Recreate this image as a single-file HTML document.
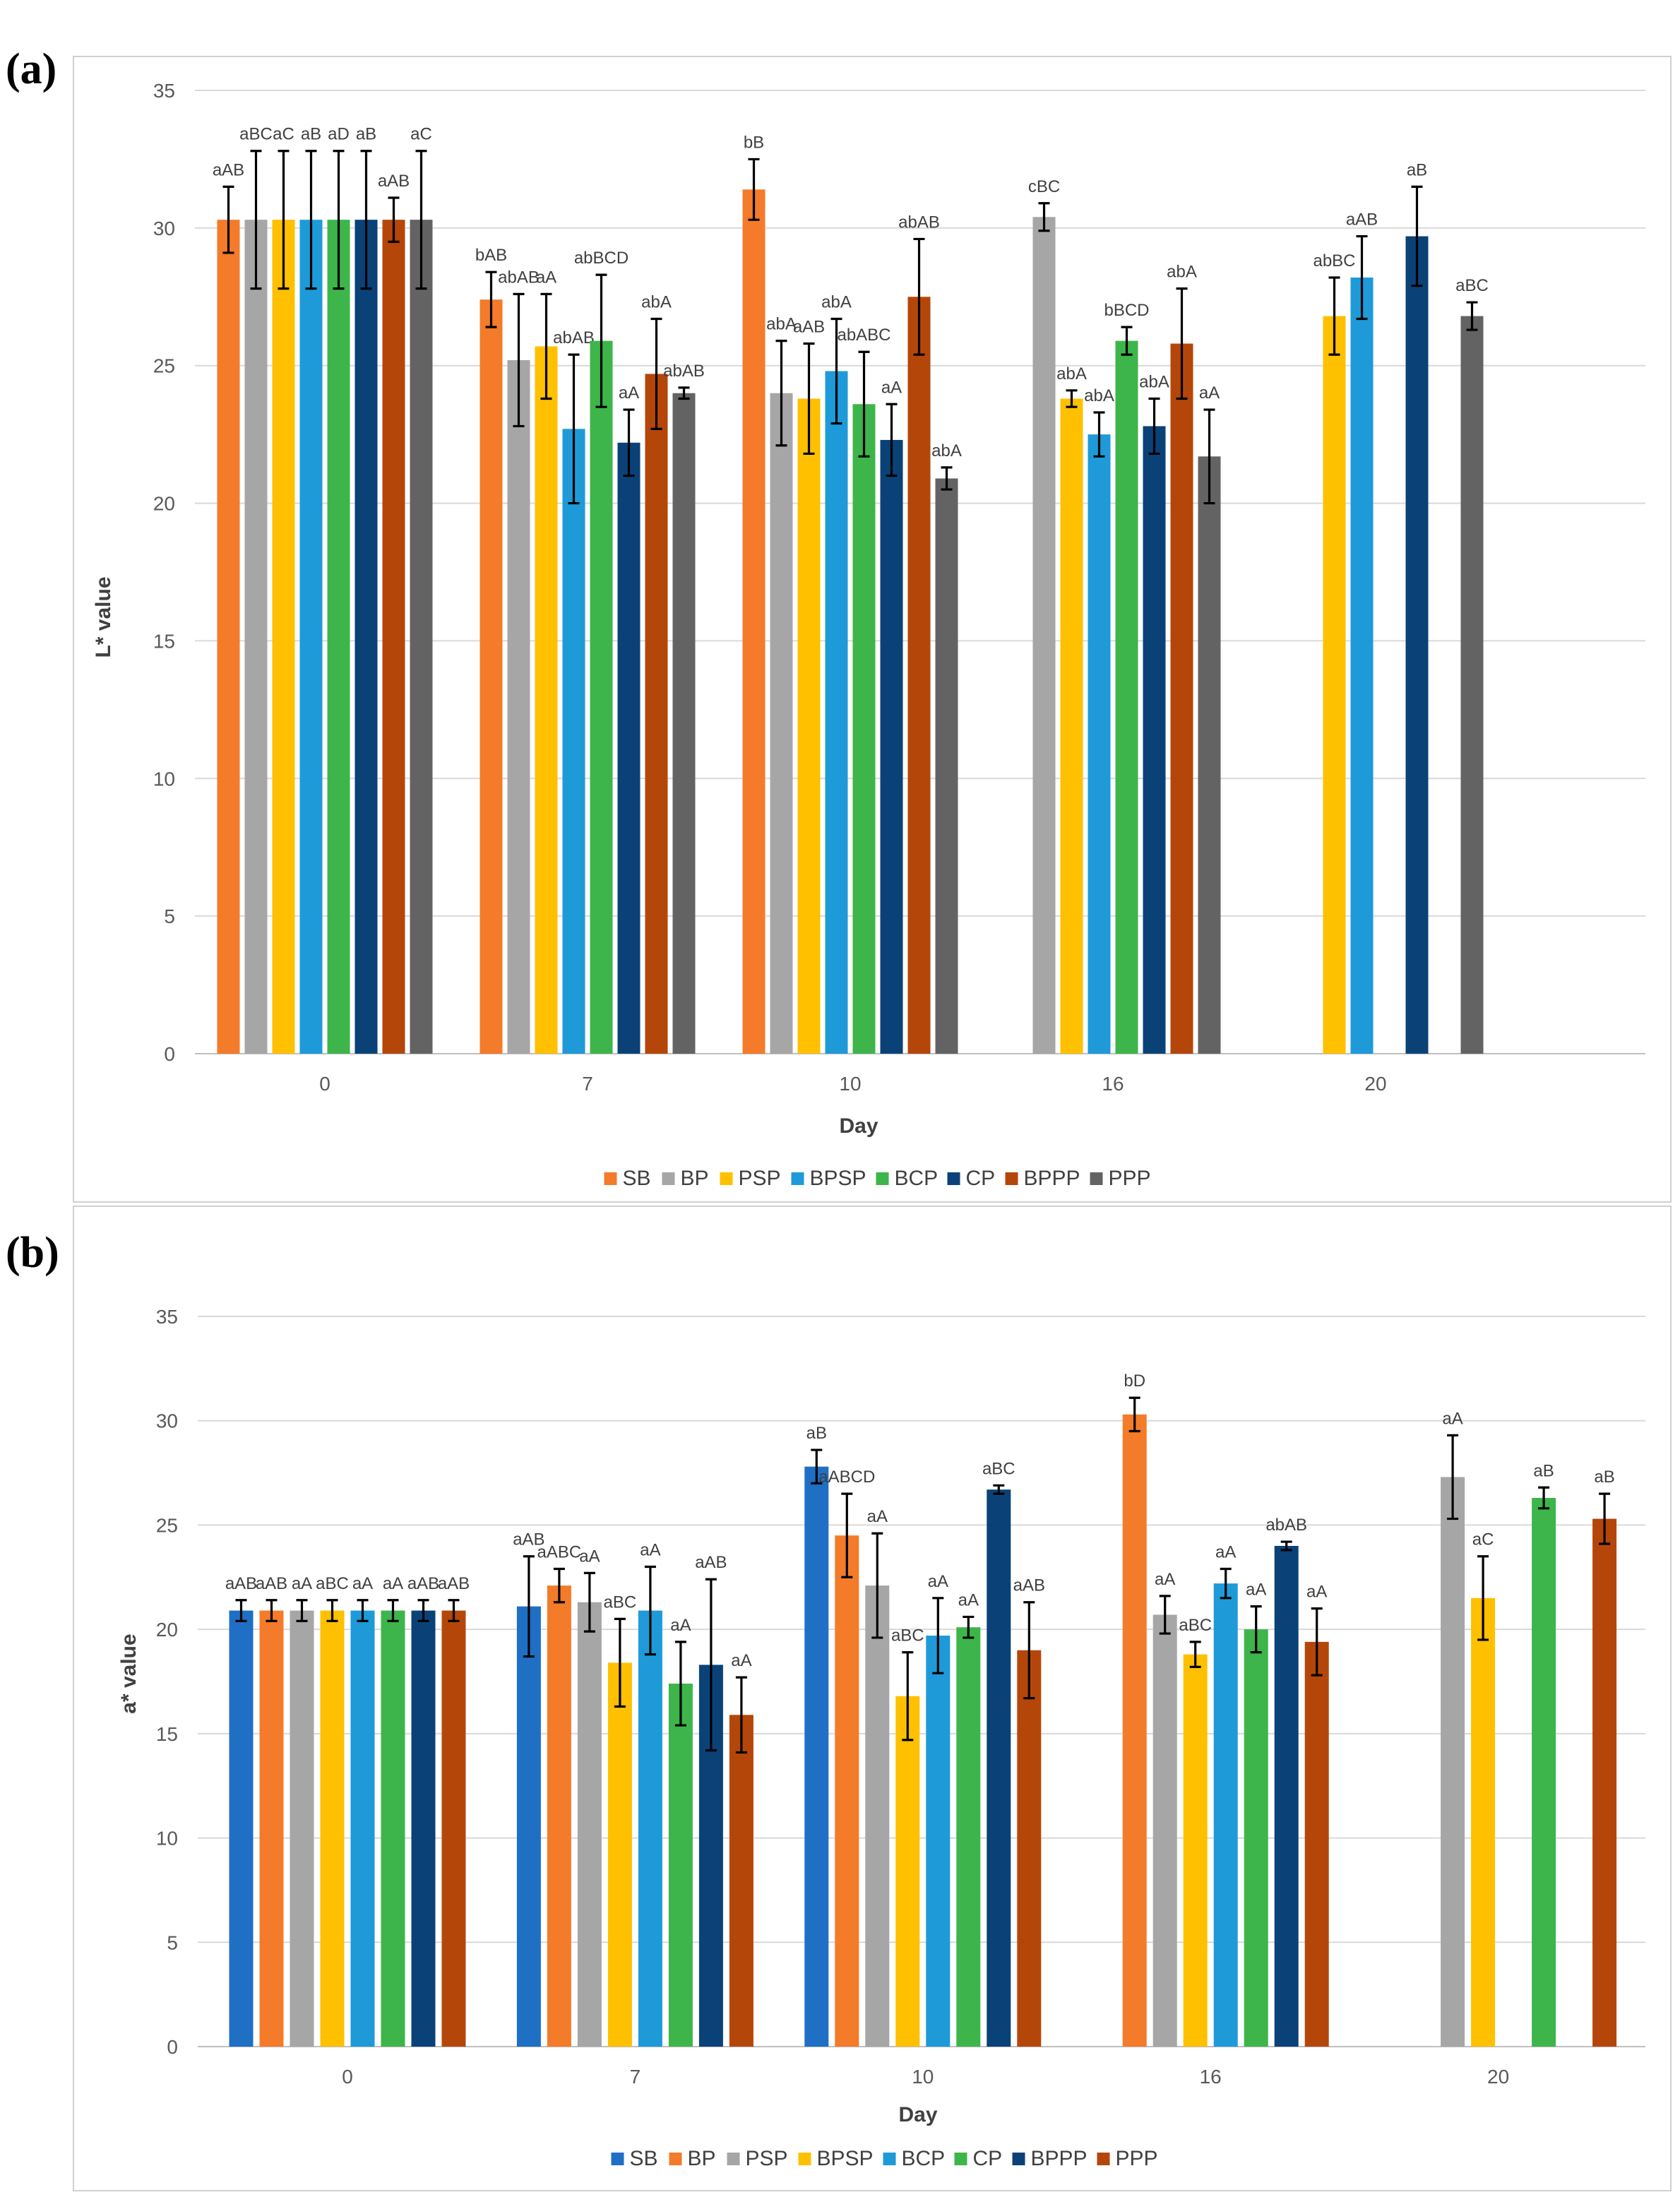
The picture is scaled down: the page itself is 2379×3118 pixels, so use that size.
<!DOCTYPE html>
<html><head><meta charset="utf-8"><style>
html,body{margin:0;padding:0;background:#fff}
svg text{font-family:"Liberation Sans",Arial,sans-serif}
</style></head><body>
<svg id="svg" width="2379" height="3113" viewBox="0 0 1189.5 1556.5" xmlns="http://www.w3.org/2000/svg">
<rect x="52" y="40" width="1131" height="811" fill="none" stroke="#d0d0d0"/>
<rect x="52" y="854" width="1131" height="697" fill="none" stroke="#d0d0d0"/>
<text x="4" y="59" font-size="31" font-weight="bold" style="font-family:'Liberation Serif',serif">(a)</text>
<text x="4" y="897" font-size="31" font-weight="bold" style="font-family:'Liberation Serif',serif">(b)</text>
<g id="chartA"></g>
<g id="chartB"></g>
</svg>
<script>
const days = ["0","7","10","16","20"];
const yTicks = [0,5,10,15,20,25,30,35];
// Panel A
const seriesA = ["SB","BP","PSP","BPSP","BCP","CP","BPPP","PPP"];
const colorsA = ["#F47B2A","#A6A6A6","#FFC000","#1E9AD9","#3DB54A","#0A4278","#B5460A","#636363"];
const valsA = [
 [30.3,30.3,30.3,30.3,30.3,30.3,30.3,30.3],
 [27.4,25.2,25.7,22.7,25.9,22.2,24.7,24.0],
 [31.4,24.0,23.8,24.8,23.6,22.3,27.5,20.9],
 [null,30.4,23.8,22.5,25.9,22.8,25.8,21.7],
 [null,null,26.8,28.2,null,29.7,null,26.8]];
const errA = [
 [1.2,2.5,2.5,2.5,2.5,2.5,0.8,2.5],
 [1.0,2.4,1.9,2.7,2.4,1.2,2.0,0.2],
 [1.1,1.9,2.0,1.9,1.9,1.3,2.1,0.4],
 [0,0.5,0.3,0.8,0.5,1.0,2.0,1.7],
 [0,0,1.4,1.5,0,1.8,0,0.5]];
const labA = [
 ["aAB","aBC","aC","aB","aD","aB","aAB","aC"],
 ["bAB","abAB","aA","abAB","abBCD","aA","abA","abAB"],
 ["bB","abA","aAB","abA","abABC","aA","abAB","abA"],
 ["","cBC","abA","abA","bBCD","abA","abA","aA"],
 ["","","abBC","aAB","","aB","","aBC"]];
// Panel B
const seriesB = ["SB","BP","PSP","BPSP","BCP","CP","BPPP","PPP"];
const colorsB = ["#1F6FC5","#F47B2A","#A6A6A6","#FFC000","#1E9AD9","#3DB54A","#0A4278","#B5460A"];
const valsB = [
 [20.9,20.9,20.9,20.9,20.9,20.9,20.9,20.9],
 [21.1,22.1,21.3,18.4,20.9,17.4,18.3,15.9],
 [27.8,24.5,22.1,16.8,19.7,20.1,26.7,19.0],
 [null,30.3,20.7,18.8,22.2,20.0,24.0,19.4],
 [null,null,27.3,21.5,null,26.3,null,25.3]];
const errB = [
 [0.5,0.5,0.5,0.5,0.5,0.5,0.5,0.5],
 [2.4,0.8,1.4,2.1,2.1,2.0,4.1,1.8],
 [0.8,2.0,2.5,2.1,1.8,0.5,0.2,2.3],
 [0,0.8,0.9,0.6,0.7,1.1,0.2,1.6],
 [0,0,2.0,2.0,0,0.5,0,1.2]];
const labB = [
 ["aAB","aAB","aA","aBC","aA","aA","aAB","aAB"],
 ["aAB","aABC","aA","aBC","aA","aA","aAB","aA"],
 ["aB","aABCD","aA","aBC","aA","aA","aBC","aAB"],
 ["","bD","aA","aBC","aA","aA","abAB","aA"],
 ["","","aA","aC","","aB","","aB"]];

const NS="http://www.w3.org/2000/svg";
function mk(parent,tag,attrs){const e=document.createElementNS(NS,tag);for(const k in attrs)e.setAttribute(k,attrs[k]);parent.appendChild(e);return e;}

function draw(g,cfg,series,colors,vals,errs,labs){
 const y=v=>cfg.y0-(v/35)*(cfg.y0-cfg.y35);
 const xc=i=>cfg.gx0+i*cfg.gw;
 yTicks.forEach(t=>{
  const l=mk(g,'line',{x1:cfg.left,x2:cfg.right,y1:y(t),y2:y(t),stroke:t===0?'#bfbfbf':'#d9d9d9','stroke-width':1});
  
  
  const tx=mk(g,'text',{x:cfg.left-14,y:y(t)+5,'text-anchor':'end','font-size':14,fill:'#595959'});
  tx.textContent=t;
  
  
 });
 days.forEach((d,i)=>{
  const tx=mk(g,'text',{x:xc(i),y:cfg.y0+26,'text-anchor':'middle','font-size':14,fill:'#595959'});
  tx.textContent=d;
  
  
  vals[i].forEach((v,j)=>{
   if(v===null)return;
   const cx=xc(i)+(j-3.5)*cfg.bs;
   const r=mk(g,'rect',{x:cx-cfg.bw/2,y:y(v),width:cfg.bw,height:cfg.y0-y(v),fill:colors[j]});
   
   
   const e=errs[i][j];
   if(e>0){
    const p=mk(g,'path',{d:`M${cx},${y(v+e)}V${y(v-e)}M${cx-4},${y(v+e)}H${cx+4}M${cx-4},${y(v-e)}H${cx+4}`,stroke:'#000','stroke-width':1.6,fill:'none'});
    
    
   }
   const lt=mk(g,'text',{x:cx,y:y(v+e)-8,'text-anchor':'middle','font-size':12,fill:'#404040'});
   lt.textContent=labs[i][j];
   
   
  });
 });
 const at=mk(g,'text',{x:cfg.ytx,y:cfg.yty,'text-anchor':'middle','font-size':15,'font-weight':'bold',fill:'#404040',transform:`rotate(-90 ${cfg.ytx} ${cfg.yty})`});
 at.textContent=cfg.ytitle;
 
 
 const xt=mk(g,'text',{x:cfg.dayx,y:cfg.dayy,'text-anchor':'middle','font-size':15,'font-weight':'bold',fill:'#404040'});
 xt.textContent='Day';
 
 
 const widths=series.map(s=>s.length*9.5+22);
 const total=widths.reduce((a,b)=>a+b,0);
 let lx=cfg.legx-total/2;
 series.forEach((s,j)=>{
  const lg=mk(g,'g',{});
  
  
  mk(lg,'rect',{x:lx,y:cfg.legy-9,width:9,height:9,fill:colors[j]});
  const t=mk(lg,'text',{x:lx+13,y:cfg.legy,'font-size':15,fill:'#404040'});
  t.textContent=s;
  lx+=widths[j];
 });
}
draw(document.getElementById('chartA'),{y0:746,y35:64,left:138,right:1165,gx0:230,gw:186,bs:19.5,bw:16,ytx:78,yty:437,ytitle:'L* value',dayx:608,dayy:802,legx:625,legy:839},seriesA,colorsA,valsA,errA,labA);
draw(document.getElementById('chartB'),{y0:1449,y35:932,left:140,right:1165,gx0:246,gw:203.7,bs:21.5,bw:17,ytx:96,yty:1185,ytitle:'a* value',dayx:650,dayy:1502,legx:630,legy:1533},seriesB,colorsB,valsB,errB,labB);
</script>
</body></html>
